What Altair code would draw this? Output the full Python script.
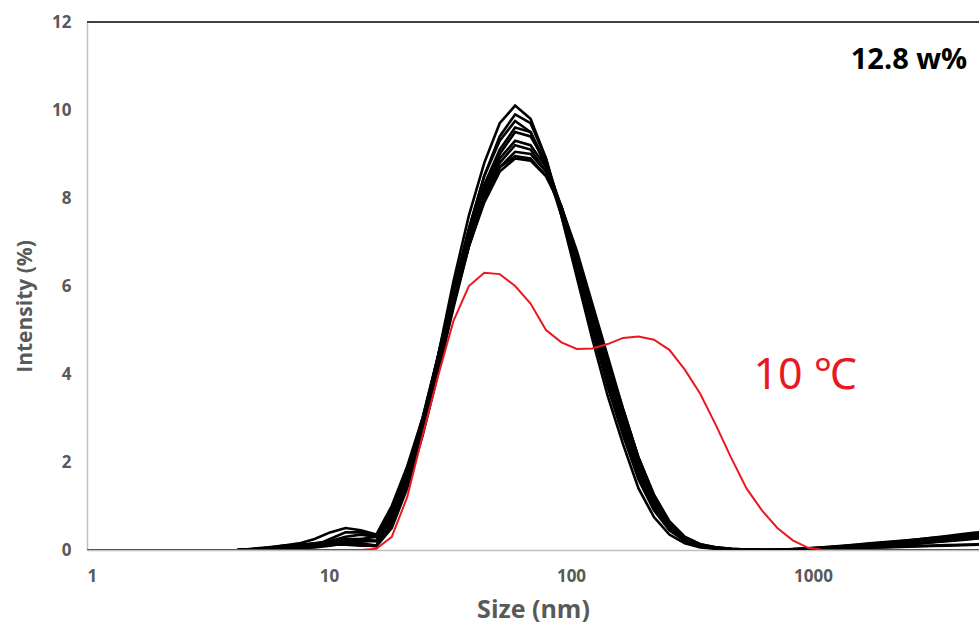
import altair as alt
import pandas as pd

# DLS size bins (nm)
SIZES = [0.9649, 1.117, 1.294, 1.499, 1.736, 2.010, 2.328, 2.696, 3.122, 3.615,
         4.187, 4.849, 5.615, 6.503, 7.531, 8.721, 10.10, 11.70, 13.54, 15.69,
         18.17, 21.04, 24.36, 28.21, 32.67, 37.84, 43.82, 50.75, 58.77, 68.06,
         78.82, 91.28, 105.7, 122.4, 141.8, 164.2, 190.1, 220.2, 255.0, 295.3,
         342.0, 396.1, 458.7, 531.2, 615.1, 712.4, 825.0, 955.4, 1106, 1281,
         1484, 1718, 1990, 2305, 2669, 3091, 3580, 4145, 4801, 5560]

# red run (10 °C), all bins
RED = [0, 0, 0, 0, 0, 0, 0, 0, 0, 0,
       0, 0, 0, 0, 0, 0, 0, 0, 0, 0.03,
       0.3, 1.2, 2.6, 3.95, 5.2, 6.0, 6.3, 6.27, 6.0, 5.6,
       5.0, 4.72, 4.57, 4.58, 4.68, 4.82, 4.85, 4.78, 4.55, 4.1,
       3.55, 2.85, 2.1, 1.4, 0.9, 0.5, 0.22, 0.05, 0, 0,
       0, 0, 0, 0, 0, 0, 0, 0, 0, 0]

# black runs, bins from 4.187 nm onward
BLACK = {
    "A": [0, 0, 0.03, 0.06, 0.1, 0.15, 0.2, 0.2, 0.15, 0.1, 0.6, 1.5, 2.8, 4.4, 6.1, 7.6, 8.8, 9.7, 10.1, 9.8,
          8.9, 7.6, 6.2, 4.8, 3.5, 2.4, 1.4, 0.75, 0.35, 0.15, 0.06, 0.03, 0.01, 0, 0, 0, 0.01, 0.02, 0.03, 0.05,
          0.06, 0.08, 0.1, 0.12, 0.14, 0.17, 0.2, 0.23, 0.26, 0.3],
    "B": [0, 0.02, 0.05, 0.1, 0.15, 0.25, 0.4, 0.5, 0.45, 0.35, 1.0, 1.9, 3.0, 4.4, 5.9, 7.3, 8.5, 9.4, 9.9, 9.7,
          8.9, 7.7, 6.4, 5.0, 3.7, 2.6, 1.6, 0.9, 0.45, 0.2, 0.08, 0.03, 0.01, 0, 0, 0.01, 0.02, 0.04, 0.06, 0.08,
          0.1, 0.13, 0.16, 0.19, 0.22, 0.26, 0.3, 0.34, 0.38, 0.42],
    "C": [0, 0, 0.02, 0.05, 0.08, 0.12, 0.2, 0.3, 0.35, 0.3, 0.8, 1.7, 2.9, 4.3, 5.9, 7.3, 8.5, 9.3, 9.75, 9.5,
          8.7, 7.6, 6.3, 5.0, 3.8, 2.7, 1.7, 0.95, 0.5, 0.22, 0.1, 0.04, 0.02, 0.01, 0, 0, 0.01, 0.03, 0.05, 0.07,
          0.09, 0.11, 0.13, 0.16, 0.19, 0.22, 0.26, 0.3, 0.34, 0.38],
    "D": [0, 0.03, 0.06, 0.1, 0.12, 0.15, 0.18, 0.2, 0.2, 0.2, 0.7, 1.7, 2.9, 4.4, 5.9, 7.2, 8.3, 9.1, 9.6, 9.5,
          8.8, 7.7, 6.4, 5.1, 3.9, 2.8, 1.8, 1.0, 0.5, 0.22, 0.1, 0.04, 0.02, 0, 0, 0, 0.01, 0.02, 0.03, 0.04,
          0.05, 0.06, 0.07, 0.08, 0.09, 0.1, 0.11, 0.12, 0.13, 0.14],
    "E": [0, 0, 0.02, 0.04, 0.07, 0.1, 0.15, 0.2, 0.25, 0.3, 0.9, 1.8, 3.0, 4.4, 5.8, 7.1, 8.2, 9.0, 9.5, 9.4,
          8.8, 7.8, 6.5, 5.2, 4.0, 2.9, 1.85, 1.05, 0.55, 0.25, 0.11, 0.05, 0.02, 0.01, 0, 0, 0.02, 0.04, 0.06, 0.09,
          0.12, 0.15, 0.18, 0.21, 0.24, 0.27, 0.3, 0.34, 0.38, 0.42],
    "F": [0, 0.02, 0.04, 0.06, 0.08, 0.1, 0.12, 0.12, 0.1, 0.1, 0.6, 1.5, 2.7, 4.1, 5.6, 7.0, 8.1, 8.9, 9.3, 9.2,
          8.7, 7.8, 6.6, 5.3, 4.1, 3.0, 1.95, 1.1, 0.55, 0.25, 0.1, 0.05, 0.02, 0, 0, 0, 0.01, 0.02, 0.04, 0.05,
          0.07, 0.09, 0.11, 0.13, 0.15, 0.18, 0.21, 0.24, 0.27, 0.3],
    "G": [0, 0, 0.01, 0.03, 0.05, 0.1, 0.25, 0.4, 0.4, 0.3, 0.8, 1.7, 2.9, 4.3, 5.7, 7.0, 8.1, 8.8, 9.2, 9.1,
          8.6, 7.7, 6.6, 5.4, 4.2, 3.0, 2.0, 1.15, 0.6, 0.27, 0.12, 0.05, 0.02, 0.01, 0, 0, 0.01, 0.02, 0.03, 0.05,
          0.07, 0.09, 0.11, 0.14, 0.17, 0.2, 0.24, 0.28, 0.32, 0.36],
    "H": [0, 0.02, 0.05, 0.08, 0.1, 0.12, 0.15, 0.18, 0.2, 0.22, 0.8, 1.7, 2.8, 4.2, 5.6, 6.9, 8.0, 8.7, 9.05, 9.0,
          8.6, 7.8, 6.7, 5.5, 4.3, 3.1, 2.05, 1.2, 0.62, 0.28, 0.12, 0.05, 0.02, 0, 0, 0, 0.01, 0.02, 0.04, 0.06,
          0.08, 0.1, 0.12, 0.15, 0.18, 0.21, 0.25, 0.29, 0.33, 0.37],
    "I": [0, 0, 0.01, 0.02, 0.04, 0.06, 0.1, 0.15, 0.12, 0.08, 0.5, 1.4, 2.6, 4.0, 5.5, 6.9, 8.0, 8.7, 8.95, 8.9,
          8.5, 7.8, 6.7, 5.5, 4.3, 3.2, 2.1, 1.25, 0.65, 0.3, 0.13, 0.06, 0.03, 0.01, 0, 0, 0.01, 0.01, 0.02, 0.03,
          0.04, 0.05, 0.06, 0.07, 0.08, 0.09, 0.1, 0.11, 0.12, 0.13],
    "J": [0, 0.01, 0.03, 0.05, 0.08, 0.12, 0.18, 0.25, 0.25, 0.2, 0.7, 1.6, 2.8, 4.2, 5.6, 6.9, 7.9, 8.6, 8.9, 8.85,
          8.5, 7.8, 6.8, 5.6, 4.4, 3.2, 2.1, 1.25, 0.65, 0.3, 0.13, 0.06, 0.03, 0.01, 0, 0, 0.01, 0.03, 0.05, 0.08,
          0.11, 0.14, 0.17, 0.2, 0.24, 0.28, 0.32, 0.36, 0.4, 0.45],
}

X_TICKS = [1, 10, 100, 1000]
Y_TICKS = [0, 2, 4, 6, 8, 10, 12]

rows = []
for run, vals in BLACK.items():
    for s, v in zip(SIZES[10:], vals):
        rows.append({"size": s, "value": v, "run": run})
black_df = pd.DataFrame(rows)
red_df = pd.DataFrame({"size": SIZES, "value": RED})

FONT = "Open Sans"
GREY = "#595959"

xscale = alt.Scale(type="log", domain=[1, 4853], nice=False)
yscale = alt.Scale(domain=[0, 12], nice=False)

xaxis = alt.Axis(values=X_TICKS, format="d", title="Size (nm)", grid=False, ticks=False,
                 labelPadding=18, labelFontSize=17, labelFontWeight="bold", labelColor=GREY,
                 titleFontSize=25, titleFontWeight="bold", titleColor=GREY, titlePadding=13,
                 domainColor="#c0c0c0", domainWidth=1.5, labelFont=FONT, titleFont=FONT)
yaxis = alt.Axis(values=Y_TICKS, title="Intensity (%)", grid=False, ticks=False,
                 labelPadding=16, labelFontSize=17, labelFontWeight="bold", labelColor=GREY,
                 titleFontSize=21, titleFontWeight="bold", titleColor=GREY, titlePadding=16,
                 titleY=284,
                 domainColor="#c0c0c0", domainWidth=1.5, labelFont=FONT, titleFont=FONT)

black = alt.Chart(black_df).mark_line(color="black", strokeWidth=2.6, clip=True).encode(
    x=alt.X("size:Q", scale=xscale, axis=xaxis),
    y=alt.Y("value:Q", scale=yscale, axis=yaxis),
    detail="run:N",
    order="size:Q",
)

red = alt.Chart(red_df).mark_line(color="#e8191f", strokeWidth=2, clip=True).encode(
    x=alt.X("size:Q", scale=xscale),
    y=alt.Y("value:Q", scale=yscale),
    order="size:Q",
)

top = alt.Chart(pd.DataFrame({"y": [12]})).mark_rule(color="#404040", strokeWidth=2).encode(
    y=alt.Y("y:Q", scale=yscale)
)

label_conc = alt.Chart(pd.DataFrame({"t": ["12.8 w%"]})).mark_text(
    font=FONT, fontSize=29, fontWeight="bold", color="black", align="center", baseline="middle"
).encode(x=alt.value(822), y=alt.value(38), text="t:N")

label_temp = alt.Chart(pd.DataFrame({"t": ["10 ℃"]})).mark_text(
    font="Noto Sans", fontSize=43, color="#e8191f", align="center", baseline="middle"
).encode(x=alt.value(718), y=alt.value(354), text="t:N")

chart = alt.layer(black, red, top, label_conc, label_temp).properties(
    width=892, height=528,
    autosize=alt.AutoSizeParams(type="none"),
    padding={"left": 87, "top": 22, "right": 0, "bottom": 78},
    background="white",
).configure_view(stroke=None)

chart.save("out.html", embed_options={"renderer": "svg", "actions": False})
